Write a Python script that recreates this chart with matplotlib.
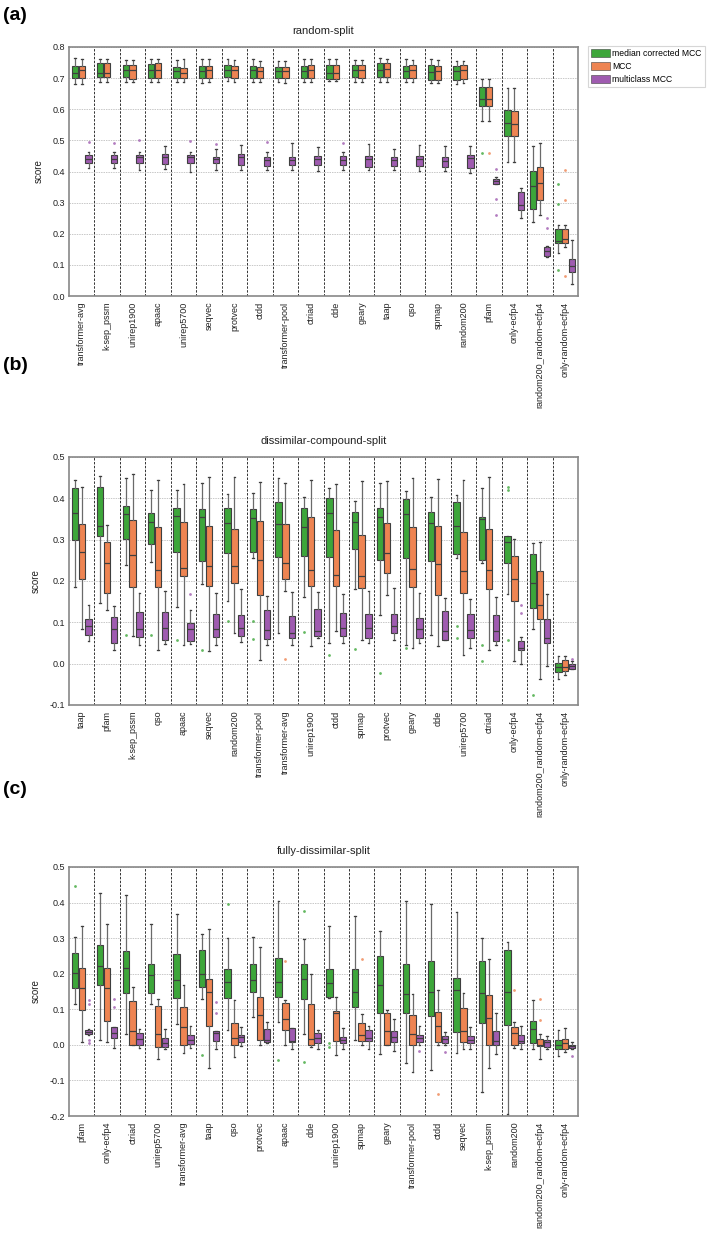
import matplotlib
matplotlib.use("Agg")
import matplotlib.pyplot as plt
from matplotlib.patches import Patch

plt.rcParams['font.family'] = ['Liberation Sans', 'DejaVu Sans']

HUES = ["median corrected MCC", "MCC", "multiclass MCC"]
COLORS = ["#3DA63A", "#EE8452", "#9F5BB0"]

# ---------------- panel (a) ----------------
A_TITLE = "random-split"
A_CATS = ["transformer-avg", "k-sep_pssm", "unirep1900", "apaac", "unirep5700", "seqvec",
          "protvec", "ctdd", "transformer-pool", "ctriad", "dde", "geary", "taap", "qso",
          "spmap", "random200", "pfam", "only-ecfp4", "random200_random-ecfp4",
          "only-random-ecfp4"]
# (q1, median, q3, whisker low, whisker high)
A_MEDCORR = [(.700, .718, .738, .682, .764), (.705, .716, .749, .689, .760),
             (.703, .727, .743, .687, .757), (.700, .725, .746, .687, .760),
             (.700, .722, .736, .689, .758), (.700, .724, .738, .684, .762),
             (.703, .727, .741, .692, .762), (.700, .725, .738, .689, .760),
             (.700, .722, .736, .687, .755), (.702, .724, .738, .689, .760),
             (.698, .718, .743, .692, .760), (.703, .727, .741, .686, .757),
             (.705, .727, .747, .688, .764), (.700, .722, .738, .689, .760),
             (.695, .720, .741, .684, .760), (.695, .722, .738, .682, .755),
             (.612, .632, .670, .563, .697), (.515, .556, .598, .429, .668),
             (.279, .353, .401, .238, .483), (.169, .178, .216, .139, .227)]
A_MCC = [(.700, .725, .738, .682, .760), (.705, .716, .747, .689, .760),
         (.698, .727, .743, .687, .757), (.700, .725, .749, .687, .760),
         (.700, .718, .733, .689, .760), (.700, .725, .738, .687, .760),
         (.700, .725, .738, .689, .757), (.700, .724, .736, .689, .755),
         (.700, .724, .736, .684, .755), (.700, .727, .741, .689, .760),
         (.698, .718, .743, .692, .760), (.700, .727, .742, .686, .757),
         (.705, .729, .747, .689, .762), (.700, .727, .741, .689, .757),
         (.695, .722, .738, .684, .757), (.697, .725, .743, .684, .755),
         (.612, .634, .670, .562, .697), (.515, .552, .595, .432, .668),
         (.308, .362, .415, .260, .490), (.169, .183, .216, .158, .227)]
A_MULTI = [(.426, .440, .453, .410, .463), (.428, .440, .452, .410, .464),
           (.428, .445, .453, .404, .464), (.424, .445, .455, .409, .482),
           (.428, .445, .453, .399, .464), (.426, .440, .448, .404, .472),
           (.420, .445, .457, .404, .485), (.417, .437, .448, .404, .463),
           (.422, .437, .448, .404, .490), (.422, .441, .450, .401, .478),
           (.422, .437, .450, .404, .463), (.415, .441, .450, .404, .487),
           (.418, .437, .446, .404, .471), (.418, .440, .450, .401, .485),
           (.415, .433, .448, .402, .481), (.410, .442, .453, .396, .481),
           (.361, .369, .375, .361, .381), (.276, .293, .333, .249, .348),
           (.128, .144, .158, .126, .160), (.077, .095, .120, .040, .180)]
A_MEDCORR_OUT = {"pfam": [.460], "only-random-ecfp4": [.359, .297, .085]}
A_MCC_OUT = {"pfam": [.458], "only-random-ecfp4": [.404, .307, .063]}
A_MULTI_OUT = {"transformer-avg": [.496], "k-sep_pssm": [.490], "unirep1900": [.500],
               "unirep5700": [.498], "seqvec": [.488], "ctdd": [.495], "dde": [.492],
               "pfam": [.409, .312, .261], "random200_random-ecfp4": [.249, .217]}

# ---------------- panel (b) ----------------
B_TITLE = "dissimilar-compound-split"
B_CATS = ["taap", "pfam", "k-sep_pssm", "qso", "apaac", "seqvec", "random200",
          "transformer-pool", "transformer-avg", "unirep1900", "ctdd", "spmap", "protvec",
          "geary", "dde", "unirep5700", "ctriad", "only-ecfp4", "random200_random-ecfp4",
          "only-random-ecfp4"]
B_MEDCORR = [(.298, .364, .424, .186, .444), (.310, .334, .427, .146, .455),
             (.302, .361, .381, .239, .450), (.290, .342, .365, .245, .420),
             (.271, .357, .377, .136, .420), (.248, .354, .375, .193, .436),
             (.267, .341, .376, .152, .410), (.271, .352, .373, .256, .412),
             (.259, .338, .391, .073, .448), (.261, .331, .376, .161, .404),
             (.257, .364, .402, .049, .424), (.277, .342, .366, .181, .394),
             (.252, .356, .376, .118, .436), (.255, .361, .398, .044, .418),
             (.248, .340, .368, .070, .404), (.265, .334, .390, .255, .408),
             (.252, .349, .354, .243, .426), (.243, .294, .310, .168, .310),
             (.134, .194, .265, .083, .293), (-.020, -.009, .002, -.036, .019)]
B_MCC = [(.206, .269, .337, .085, .427), (.172, .243, .295, .131, .335),
         (.185, .263, .348, .068, .459), (.186, .227, .331, .034, .444),
         (.213, .232, .342, .044, .434), (.189, .237, .333, .031, .451),
         (.196, .236, .326, .074, .451), (.166, .252, .344, .008, .440),
         (.206, .244, .337, .177, .438), (.189, .227, .354, .042, .444),
         (.189, .215, .323, .080, .435), (.182, .212, .311, .057, .443),
         (.219, .267, .340, .165, .442), (.185, .228, .330, .038, .448),
         (.166, .240, .333, .042, .446), (.172, .224, .319, .020, .444),
         (.180, .227, .325, .032, .452), (.152, .204, .261, .007, .302),
         (.107, .142, .225, -.036, .294), (-.017, -.008, .010, -.028, .018)]
B_MULTI = [(.070, .092, .109, .054, .143), (.049, .084, .112, .034, .139),
           (.065, .085, .125, .044, .170), (.057, .087, .126, .048, .177),
           (.056, .085, .099, .048, .131), (.064, .083, .119, .044, .172),
           (.066, .087, .117, .052, .180), (.060, .081, .131, .046, .164),
           (.061, .073, .115, .046, .174), (.066, .080, .133, .061, .174),
           (.068, .087, .123, .050, .169), (.062, .087, .119, .049, .176),
           (.073, .092, .121, .058, .184), (.062, .083, .111, .050, .170),
           (.058, .080, .127, .057, .160), (.061, .081, .119, .038, .157),
           (.056, .080, .117, .044, .162), (.032, .038, .056, -.001, .064),
           (.050, .062, .109, -.006, .168), (-.012, -.006, -.001, -.014, .006)]
B_MEDCORR_OUT = {"k-sep_pssm": [.070], "qso": [.070], "apaac": [.058], "seqvec": [.034],
                 "random200": [.103], "transformer-pool": [.103, .060],
                 "unirep1900": [.076], "ctdd": [.020], "spmap": [.036],
                 "protvec": [-.023], "geary": [.038], "unirep5700": [.091, .061],
                 "ctriad": [.046, .007], "only-ecfp4": [.428, .419, .058],
                 "random200_random-ecfp4": [-.077]}
B_MCC_OUT = {"transformer-avg": [.012]}
B_MULTI_OUT = {"apaac": [.169], "only-ecfp4": [.143, .123], "only-random-ecfp4": [.011]}

# ---------------- panel (c) ----------------
C_TITLE = "fully-dissimilar-split"
C_CATS = ["pfam", "only-ecfp4", "ctriad", "unirep5700", "transformer-avg", "taap", "qso",
          "protvec", "apaac", "dde", "unirep1900", "spmap", "geary", "transformer-pool",
          "ctdd", "seqvec", "k-sep_pssm", "random200", "random200_random-ecfp4",
          "only-random-ecfp4"]
C_MEDCORR = [(.159, .203, .258, .115, .303), (.169, .221, .280, .015, .427),
             (.145, .217, .264, .031, .420), (.145, .197, .228, .115, .339),
             (.132, .181, .256, .059, .367), (.162, .200, .267, .129, .311),
             (.132, .178, .212, .043, .301), (.150, .181, .228, .078, .303),
             (.134, .176, .244, .064, .404), (.129, .184, .226, .031, .298),
             (.134, .174, .214, .132, .333), (.106, .150, .212, .015, .362),
             (.089, .167, .250, -.027, .320), (.089, .142, .226, -.051, .404),
             (.081, .148, .237, -.072, .397), (.036, .153, .188, -.023, .373),
             (.061, .146, .235, -.133, .301), (.056, .148, .268, -.194, .289),
             (.006, .045, .067, -.011, .125), (-.011, .001, .015, -.030, .042)]
C_MCC = [(.099, .159, .217, .008, .334), (.068, .159, .217, .008, .341),
         (.000, .040, .122, .000, .164), (-.007, .031, .108, -.039, .128),
         (.000, .050, .106, -.023, .169), (.053, .150, .186, -.066, .325),
         (.000, .019, .062, -.035, .127), (.015, .084, .134, .000, .275),
         (.042, .073, .118, .000, .127), (.000, .017, .115, -.005, .200),
         (.012, .090, .094, -.028, .134), (.012, .028, .061, .000, .087),
         (.000, .040, .090, .000, .099), (.000, .031, .085, -.075, .144),
         (.009, .052, .092, .000, .153), (.008, .038, .103, -.011, .145),
         (.000, .075, .141, -.066, .242), (.000, .034, .050, -.008, .064),
         (-.004, .000, .017, -.039, .031), (-.011, .005, .017, -.021, .048)]
C_MULTI = [(.031, .037, .042, .028, .045), (.019, .034, .050, -.009, .050),
           (.000, .016, .034, -.008, .045), (-.007, .005, .020, -.011, .045),
           (.003, .014, .029, -.008, .054), (.012, .034, .040, -.013, .040),
           (.008, .022, .029, -.004, .050), (.008, .015, .045, .006, .064),
           (.008, .010, .047, -.011, .047), (.005, .020, .034, -.011, .042),
           (.005, .015, .022, -.011, .047), (.010, .020, .043, -.011, .053),
           (.008, .023, .038, -.018, .073), (.009, .020, .028, .000, .054),
           (.006, .017, .026, .000, .036), (.006, .015, .026, -.011, .050),
           (.000, .012, .038, -.027, .090), (.005, .012, .028, -.011, .053),
           (-.005, .009, .015, -.011, .024), (-.008, -.004, .000, -.011, .008)]
C_MEDCORR_OUT = {"pfam": [.446], "taap": [-.028], "qso": [.397], "apaac": [-.042],
                 "dde": [.376, -.049], "unirep1900": [.006, -.007]}
C_MCC_OUT = {"apaac": [.237], "spmap": [.240], "ctdd": [-.138], "random200": [.153],
             "random200_random-ecfp4": [.129, .070]}
C_MULTI_OUT = {"pfam": [.125, .115, .015, .006], "only-ecfp4": [.129, .106],
               "taap": [.120, .090], "transformer-pool": [-.018], "ctdd": [-.021],
               "only-random-ecfp4": [-.032]}

EDGE = "#3f3f3f"
WHISK = "#6a6a6a"


def draw(ax, cats, series, outs, title, ylim, yticks):
    n = len(cats)
    offs = [-0.27, 0.0, 0.27]
    for k in range(3):
        col = COLORS[k]
        stats = []
        for c, v in zip(cats, series[k]):
            q1, med, q3, lo, hi = v
            stats.append(dict(q1=q1, med=med, q3=q3, whislo=lo, whishi=hi,
                              fliers=outs[k].get(c, []), label=c))
        pos = [i + offs[k] for i in range(n)]
        ax.bxp(stats, positions=pos, widths=0.25, patch_artist=True, showfliers=True,
               boxprops=dict(facecolor=col, edgecolor=EDGE, linewidth=0.8),
               medianprops=dict(color=EDGE, linewidth=0.9),
               whiskerprops=dict(color=WHISK, linewidth=0.9),
               capprops=dict(color=EDGE, linewidth=0.9),
               flierprops=dict(marker='o', markersize=2.0, markerfacecolor=col,
                               markeredgecolor='none', alpha=0.8),
               capwidths=0.07, manage_ticks=False, zorder=3)
    for i in range(n - 1):
        ax.axvline(i + 0.5, color="#333333", ls=(0, (2.5, 1.5)), lw=0.7, zorder=1)
    ax.set_xlim(-0.5, n - 0.5)
    ax.set_ylim(*ylim)
    ax.set_yticks(yticks)
    ax.set_yticklabels([f"{t:.1f}" for t in yticks])
    ax.set_xticks(range(n))
    ax.set_xticklabels(cats, rotation=90, fontsize=6.5, color="#222222")
    ax.tick_params(axis='y', labelsize=6.5, colors="#222222", length=0, pad=3)
    ax.tick_params(axis='x', length=0, pad=4)
    ax.yaxis.grid(True, color="#c8c8c8", ls=(0, (1.5, 1)), lw=0.7)
    ax.set_axisbelow(True)
    for s in ax.spines.values():
        s.set_color("#888888")
        s.set_linewidth(1.2)
    ax.set_ylabel("score", fontsize=7, color="#222222", labelpad=6)
    ax.set_title(title, fontsize=8, color="#222222", pad=9)


fig = plt.figure(figsize=(7.10, 12.36), dpi=100)
W, H = 710.0, 1236.0
left, right = 69 / W, 578 / W


def add_axes(top_px, bot_px):
    return fig.add_axes([left, 1 - bot_px / H, right - left, (bot_px - top_px) / H])


axa = add_axes(47, 296)
axb = add_axes(457, 705)
axc = add_axes(867, 1116)

draw(axa, A_CATS, [A_MEDCORR, A_MCC, A_MULTI], [A_MEDCORR_OUT, A_MCC_OUT, A_MULTI_OUT],
     A_TITLE, (0.0, 0.8), [0.0, 0.1, 0.2, 0.3, 0.4, 0.5, 0.6, 0.7, 0.8])
draw(axb, B_CATS, [B_MEDCORR, B_MCC, B_MULTI], [B_MEDCORR_OUT, B_MCC_OUT, B_MULTI_OUT],
     B_TITLE, (-0.1, 0.5), [-0.1, 0.0, 0.1, 0.2, 0.3, 0.4, 0.5])
draw(axc, C_CATS, [C_MEDCORR, C_MCC, C_MULTI], [C_MEDCORR_OUT, C_MCC_OUT, C_MULTI_OUT],
     C_TITLE, (-0.2, 0.5), [-0.2, -0.1, 0.0, 0.1, 0.2, 0.3, 0.4, 0.5])

handles = [Patch(facecolor=c, edgecolor=EDGE, linewidth=0.4, label=h)
           for c, h in zip(COLORS, HUES)]
leg = fig.legend(handles=handles, loc='upper left',
                 bbox_to_anchor=(588 / W, 1 - 46 / H),
                 fontsize=6.2, frameon=True, handlelength=2.2, handleheight=1.0,
                 borderaxespad=0, handletextpad=0.25, labelspacing=0.45,
                 borderpad=0.35, fancybox=False)
leg.get_frame().set_edgecolor("#cccccc")
leg.get_frame().set_linewidth(0.8)

fig.text(0.004, 1 - 16 / H, "(a)", fontsize=14, fontweight='bold', va='center')
fig.text(0.004, 1 - 366 / H, "(b)", fontsize=14, fontweight='bold', va='center')
fig.text(0.004, 1 - 790 / H, "(c)", fontsize=14, fontweight='bold', va='center')

fig.savefig("out.png", dpi=100)
